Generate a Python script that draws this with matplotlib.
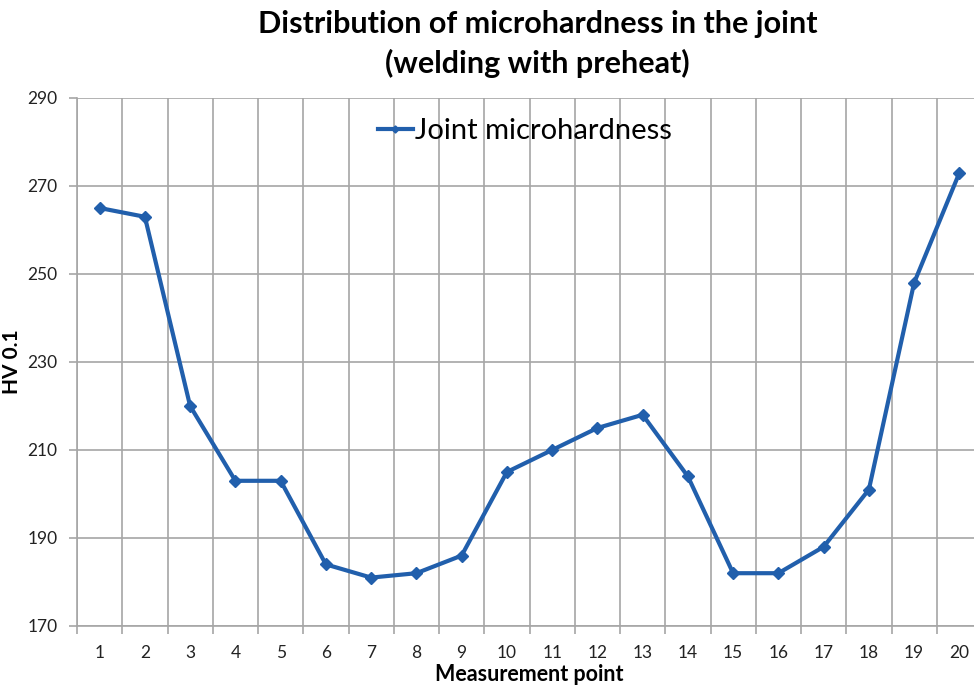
import numpy as np
import matplotlib
matplotlib.use("Agg")
import matplotlib.pyplot as plt

plt.rcParams['font.family'] = ['Lato', 'DejaVu Sans']

points = list(range(1, 21))
hardness = [265, 263, 220, 203, 203, 184, 181, 182, 186, 205,
            210, 215, 218, 204, 182, 182, 188, 201, 248, 273]
yticks = [170, 190, 210, 230, 250, 270, 290]

LINE_COLOR = '#215FAC'
GRID_COLOR = '#A6A6A6'

fig = plt.figure(figsize=(9.74, 6.86), dpi=100)
ax = fig.add_axes([77/974, 1 - 626/686, 905/974, 528/686])

ax.plot(points, hardness, '-', color=LINE_COLOR, lw=3, marker='D',
        markersize=6, label='Joint microhardness')

ax.set_xlim(0.5, 20.5)
ax.set_ylim(170, 290)
ax.set_yticks(yticks)
ax.set_xticks(points)
ax.set_xticks(np.arange(0.5, 21, 1), minor=True)
ax.tick_params(axis='x', which='major', length=0, pad=14, labelsize=12.5,
               labelcolor='#222222')
ax.tick_params(axis='x', which='minor', length=6, direction='out',
               color=GRID_COLOR, width=1.2)
ax.tick_params(axis='y', length=6, direction='out', color=GRID_COLOR,
               width=1.2, pad=8, labelsize=12.5, labelcolor='#222222')

ax.grid(True, axis='y', color=GRID_COLOR, lw=1.2)
ax.grid(True, axis='x', which='minor', color=GRID_COLOR, lw=1.2)
ax.set_axisbelow(True)
for side in ['top', 'right']:
    ax.spines[side].set_visible(False)
for side in ['left', 'bottom']:
    ax.spines[side].set_color(GRID_COLOR)
    ax.spines[side].set_linewidth(1.2)

ax.set_ylabel('HV 0.1', fontsize=15, fontweight='bold', labelpad=4)
ax.set_xlabel('Measurement point', fontsize=15.5, fontweight='bold', labelpad=2)

fig.suptitle('Distribution of microhardness in the joint\n(welding with preheat)',
             fontsize=22, fontweight='bold', y=0.985, x=0.552, linespacing=1.45)

leg = ax.legend(loc='center', bbox_to_anchor=(0.495, 0.937), frameon=False,
                fontsize=21, handlelength=1.2, handletextpad=0.1,
                markerscale=0.6)

fig.savefig('out.png', dpi=100)
